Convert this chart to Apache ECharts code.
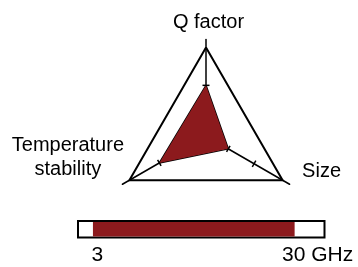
<!DOCTYPE html>
<html>
<head>
<meta charset="utf-8">
<script src="https://cdn.jsdelivr.net/npm/echarts@6/dist/echarts.min.js"></script>
<style>
html, body { margin: 0; padding: 0; background: #fff; }
#main { width: 358px; height: 267px; }
</style>
</head>
<body>
<div id="main"></div>
<script>
// radar values, axis runs 0..12, outer triangle sits at 11
var indicatorNames = ['Q factor', 'Temperature\nstability', 'Size'];
var indicatorMax = 12;
var performance = [6.3, 6.7, 3.2];
var tickValues = [[6.3], [6.7], [3.2, 6.9]];

// frequency band, GHz
var bandRange = [3, 30];
var bandExtent = [1, 34];
var bandLabels = [3, 30];
var bandUnit = 'GHz';

var red = '#8c1a1d';

// only the split ring at index 11 is drawn (the triangle)
var ringColors = [];
for (var i = 0; i <= indicatorMax; i++) {
    ringColors.push(i === 11 ? '#000' : 'rgba(0,0,0,0)');
}

var chart = echarts.init(document.getElementById('main'));

var option = {
    animation: false,
    textStyle: { fontFamily: 'Liberation Sans', color: '#000' },
    radar: {
        center: [206, 136],
        radius: 96.5,
        shape: 'polygon',
        splitNumber: indicatorMax,
        nameGap: -4,
        indicator: indicatorNames.map(function (n) {
            return { name: n, min: 0, max: indicatorMax };
        }),
        axisName: {
            color: '#000',
            fontSize: 20,
            fontFamily: 'Liberation Sans',
            formatter: function (name) {
                if (name === 'Q factor') return '{q|' + name + '}\n{gq| }';
                if (name === 'Size') return '{s|' + name + '}\n{gs| }';
                return name.split('\n').map(function (l) {
                    return '{t|' + l + '}';
                }).join('\n') + '\n{gt| }';
            },
            rich: {
                q: { fontSize: 20, lineHeight: 20, padding: [0, 0, 0, 5] },
                gq: { fontSize: 20, lineHeight: 11 },
                s: { fontSize: 20, lineHeight: 24, padding: [0, 0, 0, 16] },
                gs: { fontSize: 20, lineHeight: 22 },
                t: { fontSize: 20, lineHeight: 24, width: 116, align: 'center' },
                gt: { fontSize: 20, lineHeight: 50 }
            }
        },
        axisLine: { lineStyle: { color: '#000', width: 1.5 } },
        axisTick: { show: false },
        axisLabel: { show: false },
        splitArea: { show: false },
        splitLine: { lineStyle: { color: ringColors, width: 2 } }
    },
    grid: {
        left: 78,
        right: 33.5,
        top: 221,
        height: 16.5,
        show: true,
        borderColor: '#000',
        borderWidth: 2,
        backgroundColor: 'transparent',
        outerBoundsMode: 'none'
    },
    xAxis: {
        type: 'value',
        min: bandExtent[0],
        max: bandExtent[1],
        axisLine: { show: false },
        axisTick: { show: false },
        splitLine: { show: false },
        axisLabel: {
            customValues: bandLabels,
            margin: 7,
            color: '#000',
            fontSize: 21,
            formatter: function (v) {
                return v === bandLabels[bandLabels.length - 1]
                    ? '{b|' + v + ' ' + bandUnit + '}'
                    : '{a|' + v + '}';
            },
            rich: {
                a: { fontSize: 21, padding: [0, 0, 0, 9] },
                b: { fontSize: 21, padding: [0, 0, 0, 46] }
            }
        }
    },
    yAxis: {
        type: 'category',
        data: ['band'],
        show: false
    },
    series: [
        {
            type: 'radar',
            symbol: 'none',
            lineStyle: { color: '#000', width: 1.5 },
            areaStyle: { color: red, opacity: 1 },
            data: [{ value: performance, name: 'performance' }]
        },
        {
            type: 'bar',
            stack: 'band',
            barWidth: 14.5,
            itemStyle: { color: 'rgba(0,0,0,0)' },
            data: [bandRange[0]]
        },
        {
            type: 'bar',
            stack: 'band',
            barWidth: 14.5,
            itemStyle: { color: red },
            data: [bandRange[1] - bandRange[0]]
        }
    ]
};

chart.setOption(option);

// small cross ticks on the spokes, placed through the radar's own axes
var radarCoord = chart.getModel().getComponent('radar', 0).coordinateSystem;
var ticks = [];
tickValues.forEach(function (vals, idx) {
    vals.forEach(function (v) {
        var p = radarCoord.dataToPoint(v, idx);
        var dx = p[0] - radarCoord.cx, dy = p[1] - radarCoord.cy;
        var len = Math.sqrt(dx * dx + dy * dy) || 1;
        var nx = -dy / len * 3.5, ny = dx / len * 3.5;
        ticks.push({
            type: 'line',
            z: 10,
            shape: { x1: p[0] - nx, y1: p[1] - ny, x2: p[0] + nx, y2: p[1] + ny },
            style: { stroke: '#000', lineWidth: 1.5 }
        });
    });
});
chart.setOption({ graphic: ticks });
</script>
</body>
</html>
